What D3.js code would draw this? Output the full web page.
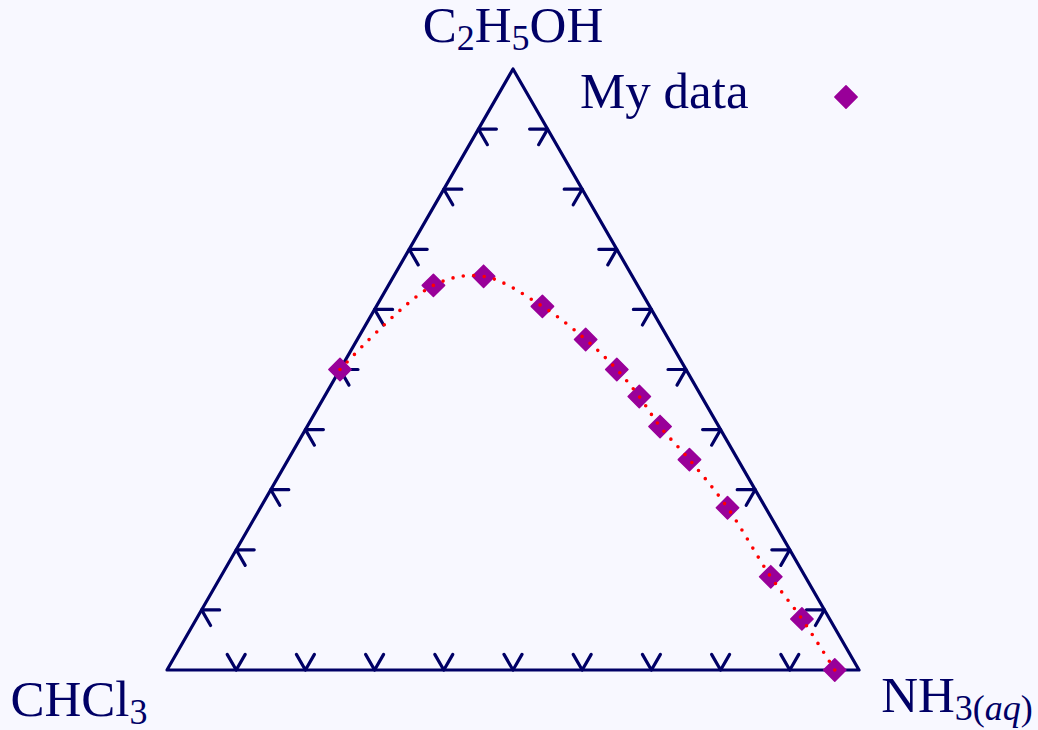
<html>
<head>
  <meta charset="utf-8">
  <title>ternary</title>
  <script src="https://d3js.org/d3.v7.min.js"></script>
  <style>
    body { margin:0; background:#f8f8ff; }
    text { font-family:"Liberation Serif", "DejaVu Serif", serif; fill:#000066; }
  </style>
</head>
<body>
<script>
// mass fractions (each row sums to 1)
var ethanol    = [0.50, 0.64, 0.655, 0.605, 0.55, 0.50, 0.455, 0.405, 0.35, 0.27, 0.155, 0.085, 0.00];
var chloroform = [0.50, 0.295, 0.215, 0.155, 0.12, 0.10, 0.09, 0.085, 0.07, 0.055, 0.05, 0.04, 0.035];
var ammonia    = [0.00, 0.065, 0.13, 0.24, 0.33, 0.40, 0.455, 0.51, 0.58, 0.675, 0.795, 0.875, 0.965];
var tickValues = [0.1, 0.2, 0.3, 0.4, 0.5, 0.6, 0.7, 0.8, 0.9];
var legendLabel = "My data";

var width = 1038, height = 730;
var navy = "#000066", purple = "#990099";

var x = d3.scaleLinear().domain([0, 1]).range([167, 859]);
var y = d3.scaleLinear().domain([0, 1]).range([670, 69]);

// ternary -> screen (top = ethanol, right = ammonia)
function pos(top, right) { return [x(right + top / 2), y(top)]; }

var svg = d3.select("body").append("svg")
  .attr("width", width).attr("height", height);

svg.append("rect").attr("width", width).attr("height", height).attr("fill", "#f8f8ff");

// triangle
svg.append("path")
  .attr("d", d3.line()([pos(0, 0), pos(1, 0), pos(0, 1)]) + "Z")
  .attr("fill", "none").attr("stroke", navy).attr("stroke-width", 3.2)
  .attr("stroke-linejoin", "round");

// arrow-shaped ticks
var L = 18, c60 = Math.cos(Math.PI / 3), s60 = Math.sin(Math.PI / 3);
var ticks = [];
tickValues.forEach(function(v) {
  var b = pos(0, v), l = pos(v, 0), r = pos(v, 1 - v);
  ticks.push([[b[0] - L * c60, b[1] - L * s60], b, [b[0] + L * c60, b[1] - L * s60]]);
  ticks.push([[l[0] + L, l[1]], l, [l[0] + L * c60, l[1] + L * s60]]);
  ticks.push([[r[0] - L, r[1]], r, [r[0] - L * c60, r[1] + L * s60]]);
});
svg.append("g").selectAll("path").data(ticks).enter().append("path")
  .attr("d", d3.line())
  .attr("fill", "none").attr("stroke", navy).attr("stroke-width", 3.2)
  .attr("stroke-linecap", "round").attr("stroke-linejoin", "round");

var pts = ethanol.map(function(t, i) { return pos(t, ammonia[i]); });

// markers
var diamond = d3.symbol().type(d3.symbolSquare).size(250);
svg.append("g").selectAll("path").data(pts).enter().append("path")
  .attr("d", diamond)
  .attr("transform", function(d) { return "translate(" + d[0] + "," + d[1] + ") rotate(45)"; })
  .attr("fill", purple).attr("stroke", purple).attr("stroke-width", 1.5)
  .attr("stroke-linejoin", "round");

// smooth dotted curve on top
svg.append("path")
  .attr("d", d3.line().curve(d3.curveCatmullRom.alpha(0.5))(pts))
  .attr("fill", "none").attr("stroke", "#ff0000").attr("stroke-width", 3.6)
  .attr("stroke-linecap", "round").attr("stroke-dasharray", "0 10.5");

// labels: parts are {t: text, sub: bool, it: bool}
function chem(xp, yp, parts) {
  var t = svg.append("text").attr("x", xp).attr("y", yp)
    .attr("text-anchor", "middle").style("font-size", "51px");
  var down = false;
  parts.forEach(function(p) {
    var s = t.append("tspan").text(p.t);
    if (p.sub) {
      s.style("font-size", "36px");
      if (!down) { s.attr("dy", 8); down = true; }
    } else if (down) { s.attr("dy", -8); down = false; }
    if (p.it) s.style("font-style", "italic");
  });
  return t;
}
chem(513, 42, [{t: "C"}, {t: "2", sub: 1}, {t: "H"}, {t: "5", sub: 1}, {t: "OH"}]);
chem(79, 716, [{t: "CHCl"}, {t: "3", sub: 1}]);
chem(957, 712, [{t: "NH"}, {t: "3", sub: 1}, {t: "(", sub: 1}, {t: "aq", sub: 1, it: 1}, {t: ")", sub: 1}]);

// legend
svg.append("text").attr("x", 580).attr("y", 108).style("font-size", "51px").text(legendLabel);
svg.append("path").attr("d", diamond)
  .attr("transform", "translate(846,97) rotate(45)")
  .attr("fill", purple).attr("stroke", purple).attr("stroke-width", 1.5)
  .attr("stroke-linejoin", "round");
</script>
</body>
</html>
